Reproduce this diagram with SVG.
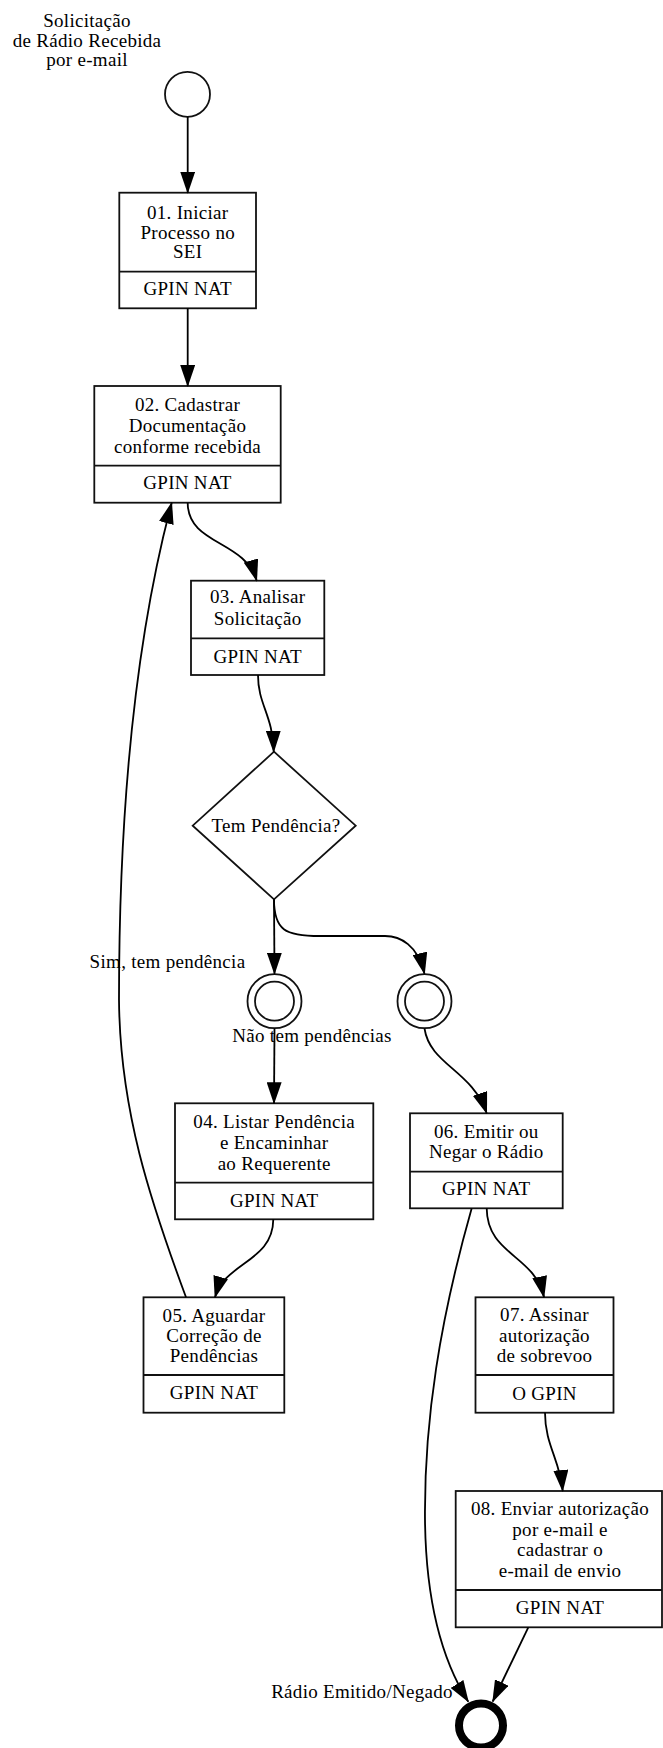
<svg xmlns="http://www.w3.org/2000/svg" width="663" height="1748" viewBox="0 0 663 1748">
<style>
text{font-family:"Liberation Serif","Times New Roman",serif;font-size:19px;letter-spacing:0.3px;fill:#000;text-anchor:middle}
.box{fill:#fff;stroke:#111;stroke-width:1.8}
.div{stroke:#111;stroke-width:1.8}
.edge{fill:none;stroke:#000;stroke-width:1.8}
.ev{fill:#fff;stroke:#111;stroke-width:1.8}
</style>
<defs>
<marker id="arr" markerUnits="userSpaceOnUse" markerWidth="22" markerHeight="15" refX="21" refY="7.5" orient="auto" viewBox="0 0 22 15">
<path d="M0,0 L22,7.5 L0,15 z" fill="#000"/>
</marker>
</defs>
<g id="start">
<text x="87" y="27">Solicitação</text>
<text x="87" y="46.5">de Rádio Recebida</text>
<text x="87" y="66">por e-mail</text>
<circle class="ev" cx="187.5" cy="94.3" r="22.5"/>
</g>
<g id="n01">
<rect class="box" x="119.3" y="192.7" width="136.7" height="115.6"/>
<line class="div" x1="119.3" y1="271.7" x2="256" y2="271.7"/>
<text x="187.7" y="219.3">01. Iniciar</text>
<text x="187.7" y="238.8">Processo no</text>
<text x="187.7" y="258.3">SEI</text>
<text x="187.7" y="295">GPIN NAT</text>
</g>
<g id="n02">
<rect class="box" x="94.3" y="386" width="186.4" height="116.7"/>
<line class="div" x1="94.3" y1="465.7" x2="280.7" y2="465.7"/>
<text x="187.5" y="410.5">02. Cadastrar</text>
<text x="187.5" y="431.7">Documentação</text>
<text x="187.5" y="452.7">conforme recebida</text>
<text x="187.5" y="489.3">GPIN NAT</text>
</g>
<g id="n03">
<rect class="box" x="191" y="580.7" width="133.3" height="94.3"/>
<line class="div" x1="191" y1="638.3" x2="324.3" y2="638.3"/>
<text x="257.7" y="603.3">03. Analisar</text>
<text x="257.7" y="625">Solicitação</text>
<text x="257.7" y="662.7">GPIN NAT</text>
</g>
<g id="gw">
<polygon class="ev" points="274,751.7 355.7,825.7 274,899.3 192.7,825.7"/>
<text x="276" y="831.7">Tem Pendência?</text>
</g>
<g id="ie1">
<circle class="ev" cx="274.5" cy="1001.2" r="27"/>
<circle class="ev" cx="274.5" cy="1001.2" r="19.5"/>
</g>
<g id="ie2">
<circle class="ev" cx="424.5" cy="1001.2" r="27"/>
<circle class="ev" cx="424.5" cy="1001.2" r="19.5"/>
</g>
<g id="n04">
<rect class="box" x="175" y="1103.3" width="198.3" height="116"/>
<line class="div" x1="175" y1="1182.7" x2="373.3" y2="1182.7"/>
<text x="274.2" y="1128.3">04. Listar Pendência</text>
<text x="274.2" y="1148.8">e Encaminhar</text>
<text x="274.2" y="1170">ao Requerente</text>
<text x="274.2" y="1206.7">GPIN NAT</text>
</g>
<g id="n05">
<rect class="box" x="143.5" y="1297.3" width="140.8" height="115.4"/>
<line class="div" x1="143.5" y1="1375" x2="284.3" y2="1375"/>
<text x="214" y="1321.7">05. Aguardar</text>
<text x="214" y="1342.2">Correção de</text>
<text x="214" y="1361.7">Pendências</text>
<text x="214" y="1399">GPIN NAT</text>
</g>
<g id="n06">
<rect class="box" x="410" y="1113.3" width="152.7" height="95"/>
<line class="div" x1="410" y1="1171.7" x2="562.7" y2="1171.7"/>
<text x="486.3" y="1138.3">06. Emitir ou</text>
<text x="486.3" y="1158.3">Negar o Rádio</text>
<text x="486.3" y="1195">GPIN NAT</text>
</g>
<g id="n07">
<rect class="box" x="475.5" y="1297.3" width="138" height="115.4"/>
<line class="div" x1="475.5" y1="1375" x2="613.5" y2="1375"/>
<text x="544.5" y="1320.7">07. Assinar</text>
<text x="544.5" y="1341.5">autorização</text>
<text x="544.5" y="1361.7">de sobrevoo</text>
<text x="544.5" y="1400">O GPIN</text>
</g>
<g id="n08">
<rect class="box" x="455.7" y="1491" width="206.3" height="136.3"/>
<line class="div" x1="455.7" y1="1590" x2="662" y2="1590"/>
<text x="560" y="1515">08. Enviar autorização</text>
<text x="560" y="1536">por e-mail e</text>
<text x="560" y="1555.7">cadastrar o</text>
<text x="560" y="1576.7">e-mail de envio</text>
<text x="560" y="1613.5">GPIN NAT</text>
</g>
<g id="end">
<circle cx="481" cy="1725.5" r="22" fill="#fff" stroke="#000" stroke-width="8"/>
</g>
<g id="connectors">
<path class="edge" marker-end="url(#arr)" d="M187.7,116.7 L187.7,192.7"/>
<path class="edge" marker-end="url(#arr)" d="M187.7,308.3 L187.7,386"/>
<path class="edge" marker-end="url(#arr)" d="M187.7,503 C188,545 245,540 256.7,580.7"/>
<path class="edge" marker-end="url(#arr)" d="M258,675 C258,705 273,715 273.7,751.7"/>
<path class="edge" marker-end="url(#arr)" d="M274,899.3 L274.5,973.8"/>
<path class="edge" marker-end="url(#arr)" d="M274,899.3 C274,930 285,936 320,936 L385,936 C400,936 418,945 424.5,973.8"/>
<path class="edge" marker-end="url(#arr)" d="M274.5,1028.5 L274,1103.3"/>
<path class="edge" marker-end="url(#arr)" d="M424.5,1028.5 C430,1065 472,1070 486.7,1113.3"/>
<path class="edge" marker-end="url(#arr)" d="M273.3,1219.3 C273,1262 225,1262 215,1297.3"/>
<path class="edge" marker-end="url(#arr)" d="M186,1297.3 C150,1200 120,1110 119,1000 C119,900 122,690 171.7,502.7"/>
<path class="edge" marker-end="url(#arr)" d="M486.7,1208.3 C487,1255 535,1255 544,1297.3"/>
<path class="edge" marker-end="url(#arr)" d="M471.7,1208.3 C440,1320 424,1420 425,1520 C426,1610 445,1665 468.3,1701.7"/>
<path class="edge" marker-end="url(#arr)" d="M545,1412.7 C545,1445 560,1460 562.7,1491"/>
<path class="edge" marker-end="url(#arr)" d="M528.3,1627.3 L492.7,1701.5"/>
<text x="167.5" y="968">Sim, tem pendência</text>
<text x="312" y="1041.7">Não tem pendências</text>
<text x="362" y="1698.3">Rádio Emitido/Negado</text>
</g>
</svg>
